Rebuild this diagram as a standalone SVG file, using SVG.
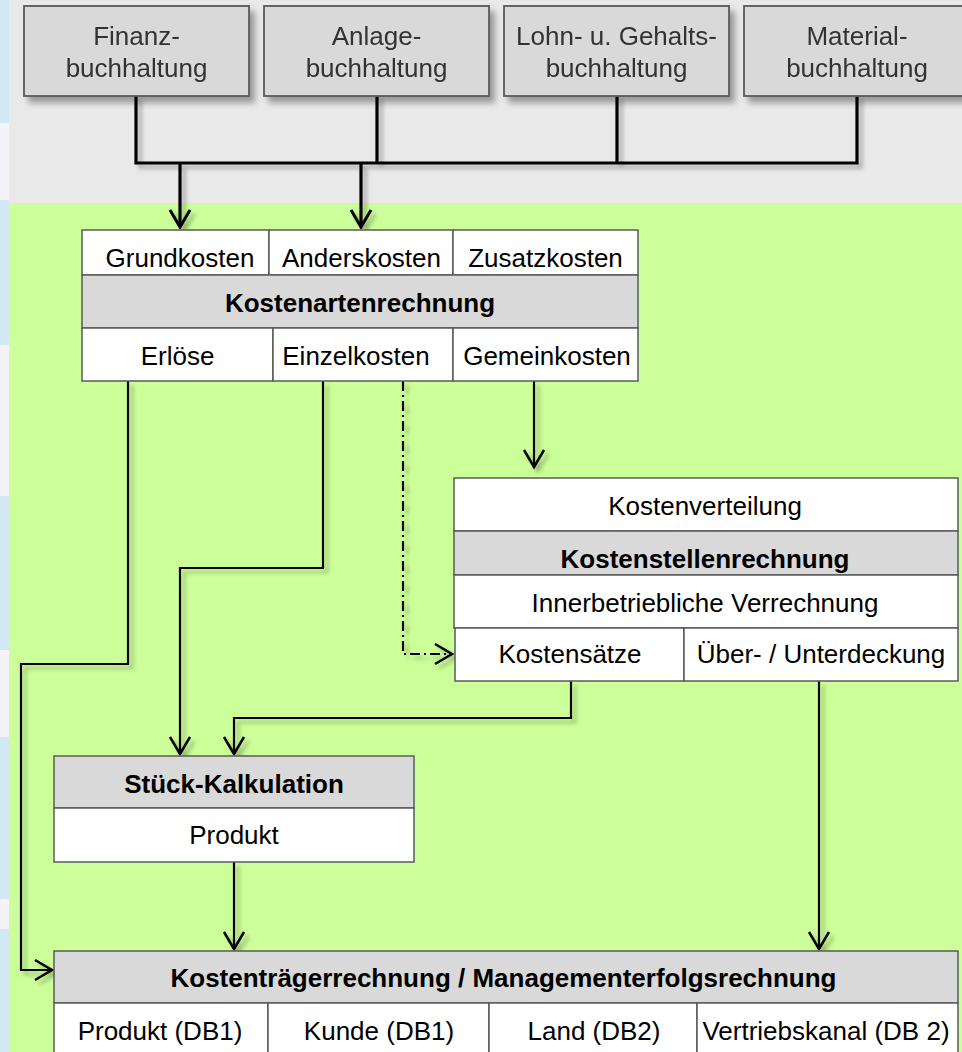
<svg xmlns="http://www.w3.org/2000/svg" width="962" height="1052" viewBox="0 0 962 1052">
<defs>
<style>
text{font-family:"Liberation Sans",Arial,sans-serif;font-size:26px;fill:#000;text-anchor:middle}
.top text{fill:#333}
.b{font-weight:bold}
.cellw{fill:#fff;stroke:#595959;stroke-width:1.5}
.cellg{fill:#d9d9d9;stroke:#595959;stroke-width:1.5}
.topbox{fill:#d9d9d9;stroke:#595959;stroke-width:1.8}
.con{fill:none;stroke:#000;stroke-width:2.2}
.thick{stroke-width:3.2}
</style>
<filter id="sh" x="-20%" y="-20%" width="140%" height="140%">
<feDropShadow dx="4" dy="4" stdDeviation="2" flood-color="#000" flood-opacity="0.3"/>
</filter>
<filter id="bsh" x="-10%" y="-10%" width="125%" height="135%">
<feDropShadow dx="5" dy="6" stdDeviation="3" flood-color="#000" flood-opacity="0.35"/>
</filter>
<marker id="arr" markerUnits="userSpaceOnUse" viewBox="-20 -12 23 24" refX="0" refY="0" markerWidth="23" markerHeight="24" orient="auto">
<path d="M-17,-10 L0,0 L-17,10" fill="none" stroke="#000" stroke-width="2.5"/>
</marker>
<marker id="arrT" markerUnits="userSpaceOnUse" viewBox="-20 -12 23 24" refX="0" refY="0" markerWidth="23" markerHeight="24" orient="auto">
<path d="M-17,-10 L0,0 L-17,10" fill="none" stroke="#000" stroke-width="3"/>
</marker>
</defs>

<!-- backgrounds -->
<rect x="0" y="0" width="962" height="1052" fill="#ccff99"/>
<rect x="9" y="0" width="953" height="203" fill="#e9e9e9"/>
<g id="stripes">
<rect x="0" y="0" width="9" height="123" fill="#d3e8f5"/>
<rect x="0" y="123" width="9" height="77" fill="#f5f3fa"/>
<rect x="0" y="200" width="9" height="145" fill="#d3e8f5"/>
<rect x="0" y="345" width="9" height="151" fill="#f5f3fa"/>
<rect x="0" y="496" width="9" height="154" fill="#d3e8f5"/>
<rect x="0" y="650" width="9" height="87" fill="#f5f3fa"/>
<rect x="0" y="737" width="9" height="162" fill="#d3e8f5"/>
<rect x="0" y="899" width="9" height="30" fill="#f5f3fa"/>
<rect x="0" y="929" width="9" height="123" fill="#d3e8f5"/>
</g>

<!-- connectors -->
<g id="connectors" filter="url(#sh)">
<path class="con thick" d="M136,96 V163 H857 V96 M377,96 V163 M617,96 V163"/>
<path class="con thick" d="M180,163 V227" marker-end="url(#arrT)"/>
<path class="con thick" d="M361,163 V227" marker-end="url(#arrT)"/>
<path class="con" d="M128,381 V664 H21 V970 H52" marker-end="url(#arr)"/>
<path class="con" d="M323,381 V568 H180 V754" marker-end="url(#arr)"/>
<path class="con" d="M571,681 V718 H234 V754" marker-end="url(#arr)"/>
<path class="con" d="M534,381 V467" marker-end="url(#arr)"/>
<path class="con" d="M403,381 V654 H452" stroke-dasharray="10,4,2,4" marker-end="url(#arr)"/>
<path class="con" d="M234,862 V949" marker-end="url(#arr)"/>
<path class="con" d="M819,681 V949" marker-end="url(#arr)"/>
</g>

<!-- top boxes -->
<g class="top">
<g id="finanz" filter="url(#bsh)">
<rect class="topbox" x="24" y="6" width="225" height="90"/>
<text x="136.5" y="45">Finanz-</text>
<text x="136.5" y="77">buchhaltung</text>
</g>
<g id="anlage" filter="url(#bsh)">
<rect class="topbox" x="264" y="6" width="225" height="90"/>
<text x="376.5" y="45">Anlage-</text>
<text x="376.5" y="77">buchhaltung</text>
</g>
<g id="lohn" filter="url(#bsh)">
<rect class="topbox" x="504" y="6" width="225" height="90"/>
<text x="616.5" y="45">Lohn- u. Gehalts-</text>
<text x="616.5" y="77">buchhaltung</text>
</g>
<g id="material" filter="url(#bsh)">
<rect class="topbox" x="744" y="6" width="225" height="90"/>
<text x="857" y="45">Material-</text>
<text x="857" y="77">buchhaltung</text>
</g>
</g>

<!-- Kostenartenrechnung -->
<g id="kostenarten">
<rect class="cellw" x="82" y="230" width="187" height="45"/>
<rect class="cellw" x="269" y="230" width="184" height="45"/>
<rect class="cellw" x="453" y="230" width="185" height="45"/>
<rect class="cellg" x="82" y="275" width="556" height="53"/>
<rect class="cellw" x="82" y="328" width="191" height="53"/>
<rect class="cellw" x="273" y="328" width="180" height="53"/>
<rect class="cellw" x="453" y="328" width="185" height="53"/>
<text x="180" y="267">Grundkosten</text>
<text x="361.5" y="267">Anderskosten</text>
<text x="545.5" y="267">Zusatzkosten</text>
<text class="b" x="360" y="312">Kostenartenrechnung</text>
<text x="177.5" y="365">Erlöse</text>
<text x="356" y="365">Einzelkosten</text>
<text x="547" y="365">Gemeinkosten</text>
</g>

<!-- Kostenstellenrechnung -->
<g id="kostenstellen">
<rect class="cellw" x="454" y="478" width="504" height="53"/>
<rect class="cellg" x="454" y="531" width="504" height="44"/>
<rect class="cellw" x="454" y="575" width="504" height="53"/>
<rect class="cellw" x="455" y="628" width="229" height="53"/>
<rect class="cellw" x="684" y="628" width="274" height="53"/>
<text x="705" y="515">Kostenverteilung</text>
<text class="b" x="705" y="568">Kostenstellenrechnung</text>
<text x="705" y="612">Innerbetriebliche Verrechnung</text>
<text x="570" y="663">Kostensätze</text>
<text x="821" y="663">Über- / Unterdeckung</text>
</g>

<!-- Stück-Kalkulation -->
<g id="stueck">
<rect class="cellg" x="54" y="756" width="360" height="52"/>
<rect class="cellw" x="54" y="808" width="360" height="54"/>
<text class="b" x="234" y="793">Stück-Kalkulation</text>
<text x="234" y="844">Produkt</text>
</g>

<!-- Kostenträgerrechnung -->
<g id="kostentraeger">
<rect class="cellg" x="54" y="951" width="904" height="52"/>
<rect class="cellw" x="54" y="1003" width="214" height="52"/>
<rect class="cellw" x="268" y="1003" width="221" height="52"/>
<rect class="cellw" x="489" y="1003" width="208" height="52"/>
<rect class="cellw" x="697" y="1003" width="261" height="52"/>
<text class="b" x="503.5" y="987">Kostenträgerrechnung / Managementerfolgsrechnung</text>
<text x="160" y="1040">Produkt (DB1)</text>
<text x="379" y="1040">Kunde (DB1)</text>
<text x="594" y="1040">Land (DB2)</text>
<text x="826" y="1040">Vertriebskanal (DB 2)</text>
</g>
</svg>
